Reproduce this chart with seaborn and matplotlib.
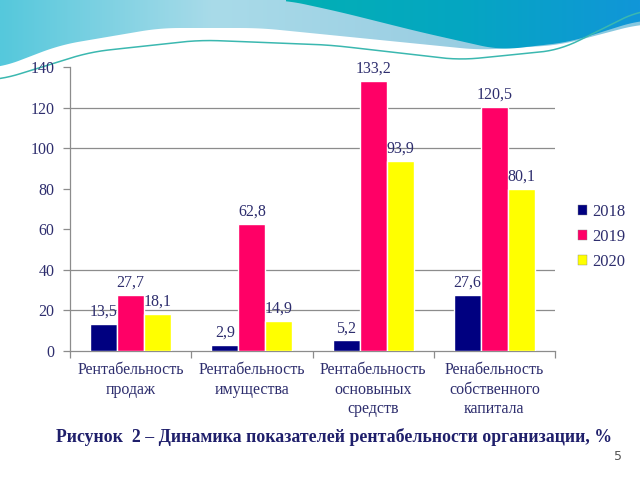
import numpy as np
import pandas as pd
import matplotlib
matplotlib.use("Agg")
import matplotlib.pyplot as plt
import seaborn as sns
from matplotlib.patches import Patch
from matplotlib.colors import LinearSegmentedColormap

categories = ["Рентабельность\nпродаж", "Рентабельность\nимущества",
              "Рентабельность\nосновыных\nсредств", "Ренабельность\nсобственного\nкапитала"]
years = ["2018", "2019", "2020"]
v2018 = [13.5, 2.9, 5.2, 27.6]
v2019 = [27.7, 62.8, 133.2, 120.5]
v2020 = [18.1, 14.9, 93.9, 80.1]
yticks = [0, 20, 40, 60, 80, 100, 120, 140]
grid_vals = [20, 40, 100, 120]
caption = "Рисунок  2 – Динамика показателей рентабельности организации, %"
page_no = "5"

colors = ["#000080", "#FF0066", "#FFFF00"]
txt = "#2e2e6e"

rows = []
for y, vals in zip(years, [v2018, v2019, v2020]):
    for c, v in zip(categories, vals):
        rows.append({"cat": c, "year": y, "val": v})
df = pd.DataFrame(rows)

sns.set_theme(style="white")
plt.rcParams["font.family"] = ["Liberation Serif", "DejaVu Serif"]

fig = plt.figure(figsize=(6.4, 4.8), dpi=100)
fig.patch.set_facecolor("white")

# decorative wave background
bg = fig.add_axes([0, 0, 1, 1], zorder=0)
bg.set_xlim(0, 640)
bg.set_ylim(480, 0)
bg.axis("off")


def smooth_curve(px, py, xs):
    t = np.interp(xs, px, py)
    k = 31
    return np.convolve(np.pad(t, k // 2, mode="edge"), np.ones(k) / k, mode="valid")


def grad_fill(xs, y1, y2, cols):
    poly = bg.fill_between(xs, y1, y2, color="none", lw=0)
    cmap = LinearSegmentedColormap.from_list("g", cols)
    img = bg.imshow(np.linspace(0, 1, 256)[None, :], cmap=cmap, aspect="auto",
                    extent=[xs.min(), xs.max(), 90, 0], zorder=1)
    img.set_clip_path(poly.get_paths()[0], transform=bg.transData)


xs = np.linspace(0, 640, 500)
lb = smooth_curve([0, 60, 160, 260, 380, 480, 560, 640], [68, 45, 28, 28, 40, 50, 45, 24], xs)
grad_fill(xs, np.zeros_like(xs), lb, ["#55c8dc", "#a9dbe9", "#9ccfe3", "#86c8e0"])
xt = xs[xs >= 285]
tb = smooth_curve([285, 340, 420, 500, 570, 640], [0, 12, 32, 50, 42, 20], xt)
grad_fill(xt, np.zeros_like(xt), tb, ["#02b0b4", "#05a6c2", "#1196d8"])
ln = smooth_curve([0, 90, 200, 330, 460, 560, 640], [80, 52, 40, 45, 60, 50, 10], xs)
bg.plot(xs, ln, color="#3bb8b0", lw=1.1, zorder=2)

ax = fig.add_axes([70 / 640, 1 - 351 / 480, (555 - 70) / 640, (351 - 67) / 480], zorder=1)
ax.patch.set_alpha(0)
sns.barplot(data=df, x="cat", y="val", hue="year", palette=colors, width=0.67,
            gap=0, saturation=1, ax=ax, legend=False, zorder=3)

for gv in grid_vals:
    ax.axhline(gv, color="#8c8c8c", lw=0.9, zorder=1)

for cont in ax.containers:
    ax.bar_label(cont, labels=[f"{b.get_height():.1f}".replace(".", ",") for b in cont],
                 padding=3, fontsize=11.5, color=txt)

ax.set_ylim(0, 140)
ax.set_xlim(-0.5, 3.5)
ax.set_yticks(yticks)
ax.set_yticklabels([str(t) for t in yticks], fontsize=11.5, color=txt)
ax.set_xticks(range(4))
ax.set_xticklabels(categories, fontsize=11.5, color=txt, linespacing=1.3)
ax.set_xticks([-0.5, 0.5, 1.5, 2.5, 3.5], minor=True)
ax.tick_params(axis="x", which="major", length=0, pad=8)
ax.tick_params(axis="x", which="minor", length=5, color="#8c8c8c", width=0.9, direction="out", bottom=True)
ax.tick_params(axis="y", length=5, color="#8c8c8c", width=0.9, direction="out", left=True, pad=6)
ax.set_xlabel("")
ax.set_ylabel("")
for s in ["top", "right"]:
    ax.spines[s].set_visible(False)
for s in ["left", "bottom"]:
    ax.spines[s].set_color("#8c8c8c")
    ax.spines[s].set_linewidth(0.9)

handles = [Patch(facecolor=c, edgecolor="#888888", lw=0.3) for c in colors]
fig.legend(handles, years, loc="center left", bbox_to_anchor=(563 / 640, 1 - 237 / 480),
           frameon=False, fontsize=12, handlelength=0.55, handleheight=0.55,
           handletextpad=0.3, labelspacing=0.55, labelcolor=txt)

fig.text(56 / 640, 1 - 437 / 480, caption, fontsize=12.8, fontweight="bold",
         color="#1f1f6b", ha="left", va="center")
fig.text(622 / 640, 1 - 457 / 480, page_no, fontsize=9, color="#555555",
         ha="right", va="center", family="DejaVu Sans")

fig.savefig("out.png", dpi=100, facecolor="white")
